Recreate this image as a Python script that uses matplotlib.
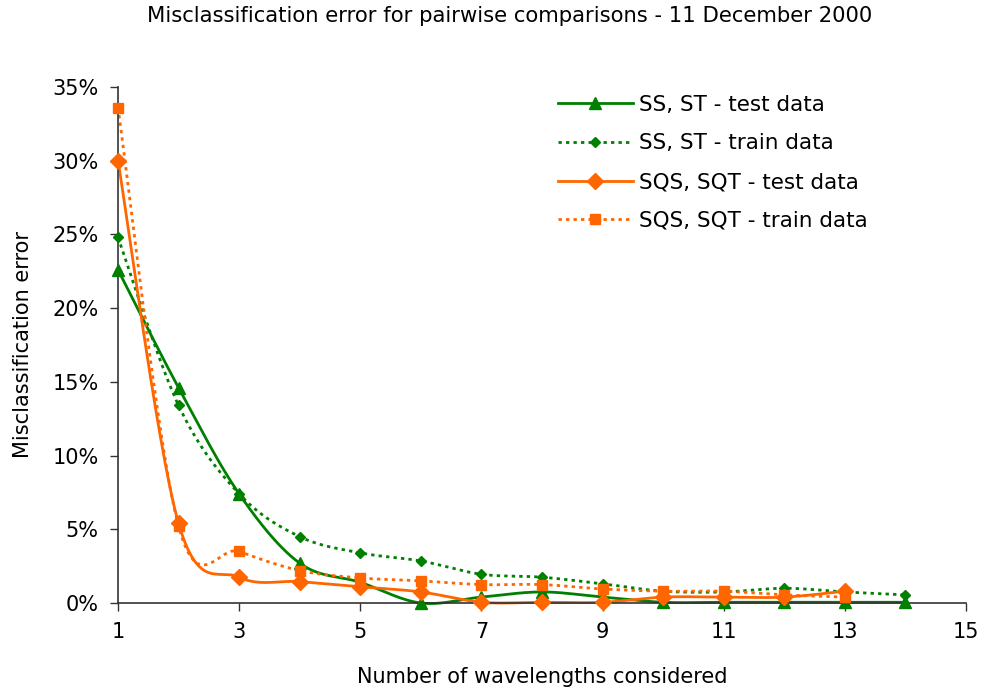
import numpy as np
import matplotlib
matplotlib.use("Agg")
import matplotlib.pyplot as plt
from matplotlib.ticker import FuncFormatter

ss_test_x = list(range(1, 15))
ss_test = [22.6, 14.6, 7.4, 2.7, 1.4, 0.0, 0.4, 0.75, 0.4, 0.05, 0.05, 0.05, 0.05, 0.05]
ss_train_x = list(range(1, 15))
ss_train = [24.8, 13.4, 7.4, 4.5, 3.4, 2.85, 1.95, 1.75, 1.3, 0.8, 0.75, 1.0, 0.75, 0.55]
sqs_test_x = list(range(1, 14))
sqs_test = [30.0, 5.4, 1.75, 1.45, 1.1, 0.75, 0.05, 0.05, 0.05, 0.4, 0.4, 0.4, 0.8]
sqs_train_x = list(range(1, 14))
sqs_train = [33.6, 5.2, 3.5, 2.2, 1.7, 1.5, 1.25, 1.25, 0.95, 0.8, 0.8, 0.55, 0.4]

labels = ["SS, ST - test data", "SS, ST - train data",
          "SQS, SQT - test data", "SQS, SQT - train data"]
title = "Misclassification error for pairwise comparisons - 11 December 2000"
xlabel = "Number of wavelengths considered"
ylabel = "Misclassification error"

GREEN = "#008000"
ORANGE = "#FF6600"


def smooth(xs, ys, n=30):
    xs = np.asarray(xs, float)
    ys = np.asarray(ys, float)
    px, py = [xs[0]], [ys[0]]
    m = len(xs)
    for i in range(m - 1):
        p0 = np.array([xs[max(i - 1, 0)], ys[max(i - 1, 0)]])
        p1 = np.array([xs[i], ys[i]])
        p2 = np.array([xs[i + 1], ys[i + 1]])
        p3 = np.array([xs[min(i + 2, m - 1)], ys[min(i + 2, m - 1)]])
        c1 = p1 + (p2 - p0) / 6.0
        c2 = p2 - (p3 - p1) / 6.0
        t = np.linspace(0, 1, n)[1:]
        b = ((1 - t) ** 3)[:, None] * p1 + (3 * (1 - t) ** 2 * t)[:, None] * c1 \
            + (3 * (1 - t) * t ** 2)[:, None] * c2 + (t ** 3)[:, None] * p2
        px.extend(b[:, 0])
        py.extend(b[:, 1])
    return np.array(px), np.array(py)


plt.rcParams['font.family'] = ['DejaVu Sans']
fig = plt.figure(figsize=(9.84, 6.93), dpi=100)
ax = fig.add_axes([118 / 984, 1 - 603 / 693, (966 - 118) / 984, (603 - 87) / 693])

LW = 2.0
DOT = (0, (1.2, 1.5))
series = [
    (ss_test_x, ss_test, GREEN, '-', '^', 9, labels[0]),
    (ss_train_x, ss_train, GREEN, DOT, 'D', 5, labels[1]),
    (sqs_test_x, sqs_test, ORANGE, '-', 'D', 8, labels[2]),
    (sqs_train_x, sqs_train, ORANGE, DOT, 's', 7, labels[3]),
]

handles = []
for xs, ys, c, ls, mk, ms, lab in series:
    sx, sy = smooth(xs, ys)
    ax.plot(sx, sy, color=c, linestyle=ls, linewidth=LW, zorder=2, clip_on=False)
    ax.plot(xs, ys, linestyle='none', marker=mk, markersize=ms, color=c,
            markeredgecolor=c, zorder=3, clip_on=False)
    h, = ax.plot([], [], color=c, linestyle=ls, linewidth=LW, marker=mk,
                 markersize=ms, markeredgecolor=c, label=lab)
    handles.append(h)

ax.set_xlim(1, 15)
ax.set_ylim(0, 35)
ax.set_xticks(range(1, 16, 2))
ax.set_yticks(range(0, 36, 5))
ax.yaxis.set_major_formatter(FuncFormatter(lambda v, p: f"{int(v)}%"))
for s in ['top', 'right']:
    ax.spines[s].set_visible(False)
for s in ['left', 'bottom']:
    ax.spines[s].set_color('#333333')
    ax.spines[s].set_linewidth(1.2)
ax.tick_params(axis='both', direction='out', length=6, width=1, colors='#333333',
               labelsize=15, labelcolor='black')
ax.tick_params(axis='x', pad=8)
ax.tick_params(axis='y', pad=8)
ax.set_xlabel(xlabel, fontsize=15, labelpad=18)
ax.set_ylabel(ylabel, fontsize=15, labelpad=14)
fig.text(510 / 984, 1 - 16 / 693, title, ha='center', va='center', fontsize=15.2)

leg = ax.legend(handles=handles, loc='upper left', bbox_to_anchor=(0.509, 1.002),
                frameon=False, fontsize=15.5, handlelength=3.45, handletextpad=0.3,
                labelspacing=0.87, borderaxespad=0.0)

fig.savefig("out.png", dpi=100)
